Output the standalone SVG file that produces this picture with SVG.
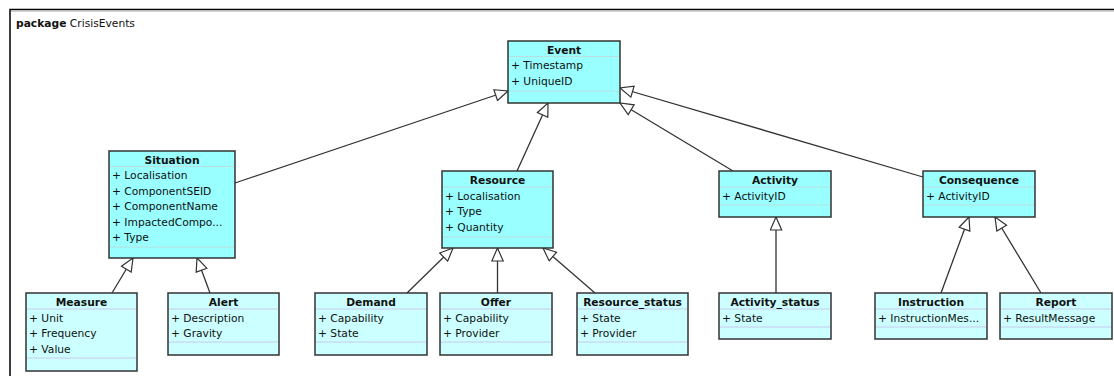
<svg xmlns="http://www.w3.org/2000/svg" width="1114" height="376" viewBox="0 0 1114 376">
<defs>
<style>
.t{font-family:"DejaVu Sans",sans-serif;font-size:10.7px;fill:#111}
.b{font-weight:bold;text-anchor:middle}
.p{fill:#99ffff;stroke:#333;stroke-width:1.5}
.l{fill:#ccffff;stroke:#333;stroke-width:1.5}
.sp{stroke:#b8dede;stroke-width:1}
.sl{stroke:#c8c8f0;stroke-width:1}
.c{fill:none;stroke:#333;stroke-width:1.3;marker-end:url(#tri)}
</style>
<marker id="tri" markerUnits="userSpaceOnUse" viewBox="0 0 15 13" refX="14" refY="6.5" markerWidth="15" markerHeight="13" orient="auto">
<path d="M1,0.8 L14,6.5 L1,12.2 Z" fill="#fff" stroke="#333" stroke-width="1.2"/>
</marker>
</defs>
<rect width="1114" height="376" fill="#fff"/>
<path d="M10,376 L10,9.5 L1114,9.5" fill="none" stroke="#000" stroke-width="1.5"/>
<path d="M11,11.2 L1114,11.2" stroke="#bbb" stroke-width="1"/>
<text class="t" x="16" y="26.5" font-size="10.5"><tspan font-weight="bold">package</tspan> CrisisEvents</text>

<g id="connectors">
<path class="c" d="M235,183 L508,91"/>
<path class="c" d="M517,171 L548,103"/>
<path class="c" d="M733,171 L620,103"/>
<path class="c" d="M923,177 L620,88"/>
<path class="c" d="M112,293 L133,258"/>
<path class="c" d="M210,293 L197,258"/>
<path class="c" d="M407,293 L453,248"/>
<path class="c" d="M497.5,293 L497.5,248"/>
<path class="c" d="M595,293 L543,248"/>
<path class="c" d="M776,293 L776,217"/>
<path class="c" d="M941,293 L969,217"/>
<path class="c" d="M1041,293 L995,217"/>
</g>

<g id="Event">
<rect class="p" x="508" y="41" width="112" height="62"/>
<line class="sp" x1="509" y1="56.5" x2="619" y2="56.5"/>
<line class="sp" x1="509" y1="91" x2="619" y2="91"/>
<text class="t b" x="564" y="53.5">Event</text>
<text class="t" x="511" y="69">+ Timestamp</text>
<text class="t" x="511" y="85">+ UniqueID</text>
</g>

<g id="Situation">
<rect class="p" x="109" y="151" width="126" height="107"/>
<line class="sp" x1="110" y1="166.5" x2="234" y2="166.5"/>
<line class="sp" x1="110" y1="247" x2="234" y2="247"/>
<text class="t b" x="172" y="163.5">Situation</text>
<text class="t" x="112" y="179">+ Localisation</text>
<text class="t" x="112" y="194.5">+ ComponentSEID</text>
<text class="t" x="112" y="210">+ ComponentName</text>
<text class="t" x="112" y="225.5">+ ImpactedCompo...</text>
<text class="t" x="112" y="241">+ Type</text>
</g>

<g id="Resource">
<rect class="p" x="442" y="171" width="111" height="77"/>
<line class="sp" x1="443" y1="187" x2="552" y2="187"/>
<line class="sp" x1="443" y1="237" x2="552" y2="237"/>
<text class="t b" x="497.5" y="184">Resource</text>
<text class="t" x="445" y="199.5">+ Localisation</text>
<text class="t" x="445" y="215">+ Type</text>
<text class="t" x="445" y="230.5">+ Quantity</text>
</g>

<g id="Activity">
<rect class="p" x="719" y="171" width="112" height="46"/>
<line class="sp" x1="720" y1="187" x2="830" y2="187"/>
<line class="sp" x1="720" y1="205" x2="830" y2="205"/>
<text class="t b" x="775" y="184">Activity</text>
<text class="t" x="722" y="199.5">+ ActivityID</text>
</g>

<g id="Consequence">
<rect class="p" x="923" y="171" width="112" height="46"/>
<line class="sp" x1="924" y1="187" x2="1034" y2="187"/>
<line class="sp" x1="924" y1="205" x2="1034" y2="205"/>
<text class="t b" x="979" y="184">Consequence</text>
<text class="t" x="926" y="199.5">+ ActivityID</text>
</g>

<g id="Measure">
<rect class="l" x="26" y="293" width="111" height="78"/>
<line class="sl" x1="27" y1="309" x2="136" y2="309"/>
<line class="sl" x1="27" y1="358" x2="136" y2="358"/>
<text class="t b" x="81.5" y="306">Measure</text>
<text class="t" x="29" y="321.5">+ Unit</text>
<text class="t" x="29" y="337">+ Frequency</text>
<text class="t" x="29" y="352.5">+ Value</text>
</g>

<g id="Alert">
<rect class="l" x="168" y="293" width="111" height="62"/>
<line class="sl" x1="169" y1="309" x2="278" y2="309"/>
<line class="sl" x1="169" y1="342" x2="278" y2="342"/>
<text class="t b" x="223.5" y="306">Alert</text>
<text class="t" x="171" y="321.5">+ Description</text>
<text class="t" x="171" y="337">+ Gravity</text>
</g>

<g id="Demand">
<rect class="l" x="315" y="293" width="112" height="62"/>
<line class="sl" x1="316" y1="309" x2="426" y2="309"/>
<line class="sl" x1="316" y1="342" x2="426" y2="342"/>
<text class="t b" x="371" y="306">Demand</text>
<text class="t" x="318" y="321.5">+ Capability</text>
<text class="t" x="318" y="337">+ State</text>
</g>

<g id="Offer">
<rect class="l" x="440" y="293" width="112" height="62"/>
<line class="sl" x1="441" y1="309" x2="551" y2="309"/>
<line class="sl" x1="441" y1="342" x2="551" y2="342"/>
<text class="t b" x="496" y="306">Offer</text>
<text class="t" x="443" y="321.5">+ Capability</text>
<text class="t" x="443" y="337">+ Provider</text>
</g>

<g id="Resource_status">
<rect class="l" x="577" y="293" width="111" height="62"/>
<line class="sl" x1="578" y1="309" x2="687" y2="309"/>
<line class="sl" x1="578" y1="342" x2="687" y2="342"/>
<text class="t b" x="632.5" y="306">Resource_status</text>
<text class="t" x="580" y="321.5">+ State</text>
<text class="t" x="580" y="337">+ Provider</text>
</g>

<g id="Activity_status">
<rect class="l" x="719" y="293" width="112" height="46"/>
<line class="sl" x1="720" y1="309" x2="830" y2="309"/>
<line class="sl" x1="720" y1="327" x2="830" y2="327"/>
<text class="t b" x="775" y="306">Activity_status</text>
<text class="t" x="722" y="321.5">+ State</text>
</g>

<g id="Instruction">
<rect class="l" x="875" y="293" width="112" height="46"/>
<line class="sl" x1="876" y1="309" x2="986" y2="309"/>
<line class="sl" x1="876" y1="327" x2="986" y2="327"/>
<text class="t b" x="931" y="306">Instruction</text>
<text class="t" x="878" y="321.5">+ InstructionMes...</text>
</g>

<g id="Report">
<rect class="l" x="1000" y="293" width="112" height="46"/>
<line class="sl" x1="1001" y1="309" x2="1111" y2="309"/>
<line class="sl" x1="1001" y1="327" x2="1111" y2="327"/>
<text class="t b" x="1056" y="306">Report</text>
<text class="t" x="1003" y="321.5">+ ResultMessage</text>
</g>
</svg>
